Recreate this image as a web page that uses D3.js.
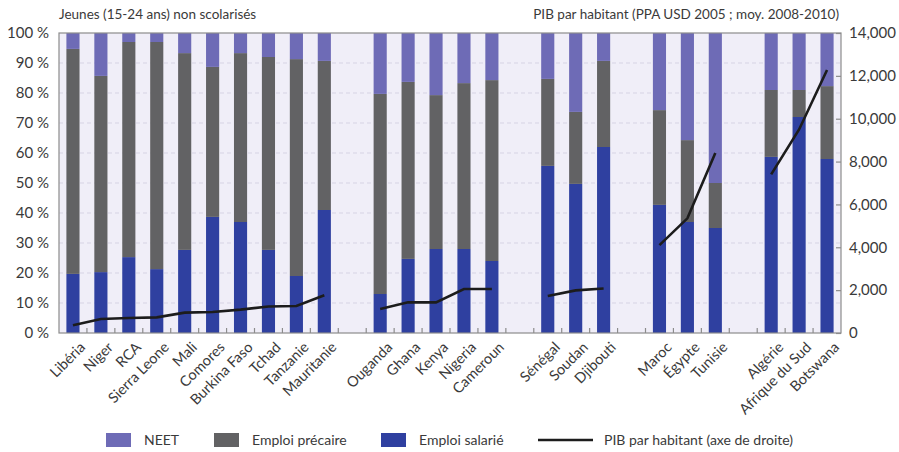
<!DOCTYPE html>
<html><head><meta charset="utf-8">
<script src="https://cdn.jsdelivr.net/npm/d3@7"></script>
<style>
body{margin:0;background:#fff;}
text{font-family:Lato,"Open Sans",sans-serif;fill:#3a3a3a;}
</style></head>
<body><svg id="c" width="899" height="452"></svg>
<script>
const categories = ["Libéria","Niger","RCA","Sierra Leone","Mali","Comores","Burkina Faso","Tchad","Tanzanie","Mauritanie",
  "Ouganda","Ghana","Kenya","Nigeria","Cameroun",
  "Sénégal","Soudan","Djibouti",
  "Maroc","Égypte","Tunisie",
  "Algérie","Afrique du Sud","Botswana"];
const groupOf = [0,0,0,0,0,0,0,0,0,0, 1,1,1,1,1, 2,2,2, 3,3,3, 4,4,4];
const emploiSalarie = [19.7,20.3,25.3,21.3,27.7,38.7,37.0,27.7,19.0,41.0, 13.0,24.7,28.0,28.0,24.0, 55.7,49.7,62.0, 42.7,37.0,35.0, 58.7,72.0,58.0];
const emploiPrecaire = [75.0,65.4,71.7,75.7,65.6,50.0,56.3,64.3,72.3,49.7, 66.7,59.0,51.3,55.3,60.3, 29.0,24.0,28.7, 31.6,27.3,15.0, 22.3,9.0,24.3];
const neet = [5.3,14.3,3.0,3.0,6.7,11.3,6.7,8.0,8.7,9.3, 20.3,16.3,20.7,16.7,15.7, 15.3,26.3,9.3, 25.7,35.7,50.0, 19.0,19.0,17.7];
const pib = [360,650,700,730,950,980,1090,1240,1260,1760, 1120,1430,1430,2050,2050, 1730,1990,2080, 4100,5350,8400, 7400,9500,12270];
const leftTicks = [0,10,20,30,40,50,60,70,80,90,100];
const rightTicks = [0,2000,4000,6000,8000,10000,12000,14000];
const legendLabels = ["NEET","Emploi précaire","Emploi salarié","PIB par habitant (axe de droite)"];
const titleLeft = "Jeunes (15-24 ans) non scolarisés";
const titleRight = "PIB par habitant (PPA USD 2005 ; moy. 2008-2010)";

const colors = {neet:"#6e6bb6", prec:"#626264", sal:"#2f40a0", line:"#1c1c1c", bg:"#f0eef8", axis:"#8c8c8c"};
const svg = d3.select("#c");
const L=59, R=841, T=33, B=333;

const slots = [];
categories.forEach((c,i)=>{ if(i>0 && groupOf[i]!==groupOf[i-1]) slots.push("gap"+i); slots.push(c); });
const x = d3.scaleBand().domain(slots).range([L,R]).padding(0);
const y = d3.scaleLinear().domain([0,100]).range([B,T]);
const y2 = d3.scaleLinear().domain([0,14000]).range([B,T]);
const bw = x.bandwidth()*0.47;
const cx = c => x(c)+x.bandwidth()/2;

svg.append("rect").attr("x",L).attr("y",T).attr("width",R-L).attr("height",B-T).attr("fill",colors.bg);
svg.append("g").selectAll("line").data(leftTicks.filter(d=>d>0&&d<100)).join("line")
  .attr("x1",L).attr("x2",R).attr("y1",d=>y(d)).attr("y2",d=>y(d))
  .attr("stroke","#d6d3e4").attr("stroke-dasharray","4,3").attr("stroke-width",1);

const data = categories.map((c,i)=>({c, sal:emploiSalarie[i], prec:emploiPrecaire[i], neet:neet[i], pib:pib[i], g:groupOf[i]}));
const stack = d3.stack().keys(["sal","prec","neet"])(data);
const fill = {sal:colors.sal, prec:colors.prec, neet:colors.neet};
svg.append("g").selectAll("g").data(stack).join("g").attr("fill",s=>fill[s.key])
  .selectAll("rect").data(s=>s).join("rect")
  .attr("x",d=>cx(d.data.c)-bw/2).attr("width",bw)
  .attr("y",d=>y(Math.min(100,d[1]))).attr("height",d=>y(d[0])-y(Math.min(100,d[1])));

const line = d3.line().x(d=>cx(d.c)).y(d=>y2(d.pib));
d3.groups(data,d=>d.g).forEach(([g,arr])=>{
  svg.append("path").attr("d",line(arr)).attr("fill","none").attr("stroke",colors.line).attr("stroke-width",2.6);
});

svg.append("rect").attr("x",L).attr("y",T).attr("width",R-L).attr("height",B-T).attr("fill","none").attr("stroke",colors.axis).attr("stroke-width",1.2);

svg.append("g").selectAll("line").data(slots.slice(1)).join("line")
  .attr("x1",d=>x(d)).attr("x2",d=>x(d)).attr("y1",B).attr("y2",B-5).attr("stroke",colors.axis).attr("stroke-width",1.2);

const ax = d3.axisLeft(y).tickValues(leftTicks).tickSize(0).tickPadding(10).tickFormat(d=>d+"\u00a0%");
const gl = svg.append("g").attr("transform",`translate(${L},0)`).call(ax);
gl.select(".domain").remove();
gl.selectAll("text").style("font-size","15px").style("font-family","Lato,sans-serif").attr("fill","#3a3a3a");
const ar = d3.axisRight(y2).tickValues(rightTicks).tickSize(-5).tickPadding(8).tickFormat(d3.format(","));
const gr = svg.append("g").attr("transform",`translate(${R},0)`).call(ar);
gr.select(".domain").remove();
gr.selectAll("line").attr("stroke",colors.axis).attr("stroke-width",1.2);
gr.selectAll("text").style("font-size","15px").style("font-family","Lato,sans-serif").attr("fill","#3a3a3a");

svg.append("g").selectAll("text").data(categories).join("text")
  .attr("transform",d=>`translate(${cx(d)+6},${B+8}) rotate(-45)`)
  .attr("text-anchor","end").attr("dy","0.7em").style("font-size","14.5px").text(d=>d);

svg.append("text").attr("x",L).attr("y",19).style("font-size","13.5px").text(titleLeft);
svg.append("text").attr("x",R-2).attr("y",19).attr("text-anchor","end").style("font-size","13.5px").text(titleRight);

const lg = svg.append("g");
const lx = [106,214,381,538];
const lf = [colors.neet,colors.prec,colors.sal];
legendLabels.forEach((t,i)=>{
  if(i<3) lg.append("rect").attr("x",lx[i]).attr("y",433).attr("width",25).attr("height",14).attr("fill",lf[i]);
  else lg.append("line").attr("x1",lx[i]).attr("x2",lx[i]+55).attr("y1",440).attr("y2",440).attr("stroke",colors.line).attr("stroke-width",2.6);
  lg.append("text").attr("x",i<3?lx[i]+38:lx[i]+66).attr("y",445).style("font-size","14px").text(t);
});
</script></body></html>
